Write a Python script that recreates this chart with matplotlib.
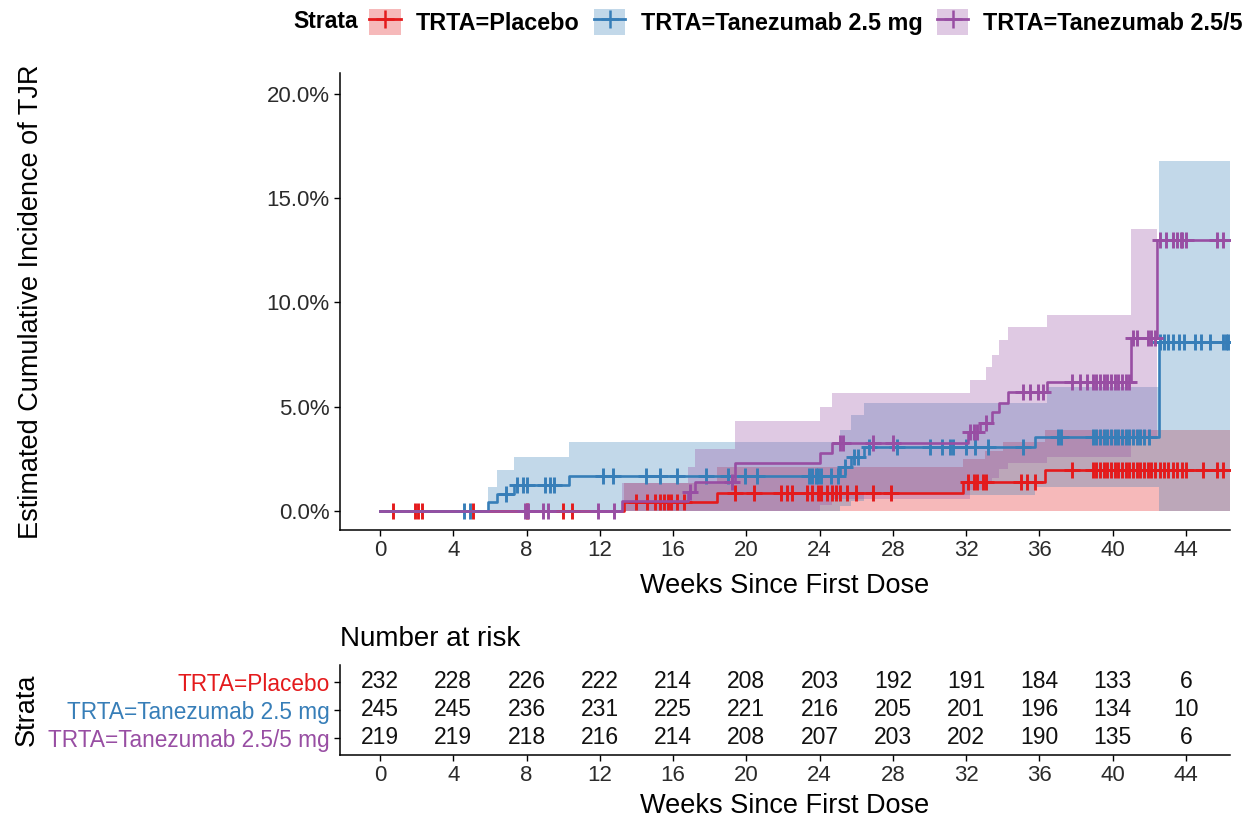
import numpy as np
import matplotlib.pyplot as plt
from matplotlib.patches import Patch
from matplotlib.lines import Line2D

plt.rcParams['font.family'] = ['Liberation Sans', 'DejaVu Sans']

W, H = 1248, 821
END = 46.4

groups = ['TRTA=Placebo', 'TRTA=Tanezumab 2.5 mg', 'TRTA=Tanezumab 2.5/5 mg']
colors = ['#E41A1C', '#377EB8', '#984EA3']

# cumulative incidence (%) step curves
red_t = [0, 13.3, 18.4, 31.8, 36.3]
red_y = [0, 0.43, 0.87, 1.38, 1.97]
blue_t = [0, 5.9, 6.4, 7.3, 10.3, 25.1, 25.7, 26.4, 35.75, 42.5]
blue_y = [0, 0.41, 0.82, 1.24, 1.67, 2.13, 2.6, 3.07, 3.55, 8.1]
purple_t = [0, 13.2, 16.8, 17.2, 19.4, 24.0, 24.7, 32.1, 32.75, 33.4, 33.8, 34.3, 36.4, 41.0, 42.4]
purple_y = [0, 0.46, 0.9, 1.4, 2.3, 2.78, 3.26, 3.8, 4.2, 4.75, 5.2, 5.7, 6.2, 8.3, 13.0]

# confidence bands (%)
red_ci_t = [0, 13.3, 18.4, 31.8, 33.0, 34.0, 36.3]
red_lo = [0, 0, 0, 0, 0, 0, 0]
red_hi = [0, 1.34, 2.1, 2.5, 2.9, 3.3, 3.9]
blue_ci_t = [0, 5.9, 6.4, 7.3, 10.3, 25.1, 25.7, 26.4, 35.75, 36.4, 42.5]
blue_lo = [0, 0, 0, 0, 0, 0.25, 0.5, 0.77, 1.15, 1.15, 0]
blue_hi = [0, 1.17, 1.97, 2.6, 3.3, 3.9, 4.6, 5.2, 5.2, 5.95, 16.8]
purple_ci_t = [0, 13.2, 16.8, 17.2, 19.4, 24.0, 24.7, 32.2, 33.1, 33.4, 33.8, 34.3, 36.4, 41.0]
purple_lo = [0, 0, 0, 0, 0, 0.3, 0.6, 1.0, 1.3, 1.6, 2.0, 2.3, 2.6, 3.5]
purple_hi = [0, 1.34, 2.1, 2.95, 4.3, 5.0, 5.66, 6.3, 6.9, 7.5, 8.2, 8.8, 9.4, 13.5]
purple_ci_end = 42.4

# censoring times (weeks)
red_cens = [0.7, 1.9, 2.1, 2.3, 5.1, 8.0, 10.0, 10.5,
            14.0, 14.6, 15.0, 15.3, 15.5, 15.7, 15.9, 16.2, 16.6,
            19.4, 20.4, 21.9, 22.2, 22.5, 23.3, 23.6, 23.9, 24.1, 24.4, 24.7, 24.9,
            25.1, 25.5, 26.0, 26.9, 27.9,
            32.1, 32.4, 32.6, 32.9, 33.1, 35.0, 35.3, 35.75,
            37.8, 38.9, 39.1, 39.3, 39.5, 39.7, 39.9, 40.1, 40.3, 40.5, 40.7, 40.9,
            41.1, 41.3, 41.5, 41.7, 41.9, 42.1, 42.3, 42.6, 42.8, 43.0, 43.3, 43.5,
            43.8, 44.0, 44.9, 45.7, 46.0]
blue_cens = [4.6, 4.9, 6.9, 7.5, 7.8, 8.0, 9.0, 9.3, 9.5,
             12.2, 12.7, 14.5, 15.3, 16.2, 17.8, 19.0, 19.9, 20.6,
             23.4, 23.6, 23.8, 23.9, 24.1, 24.6, 25.0, 25.4, 25.9, 26.1,
             26.7, 28.2, 30.0, 30.7, 31.1, 31.3, 32.0, 32.5, 33.2, 35.1,
             37.0, 37.2, 38.9, 39.1, 39.3, 39.5, 39.7, 39.9, 40.1, 40.3, 40.5,
             40.7, 40.9, 41.1, 41.3, 41.5, 41.7, 42.0,
             42.6, 42.8, 43.0, 43.3, 43.6, 43.9, 44.5, 44.8, 45.3, 46.0, 46.2, 46.3]
purple_cens = [7.9, 8.1, 8.9, 9.2, 11.9, 12.8, 16.9, 19.2, 25.1, 25.3, 26.9, 28.0,
               32.2, 32.4, 32.6, 33.1, 35.1, 35.5, 35.9, 36.2,
               37.8, 38.2, 38.6, 38.9, 39.1, 39.3, 39.5, 39.7, 39.9, 40.1, 40.3,
               40.5, 40.7, 40.9, 41.1, 41.3, 41.9, 42.1, 42.3,
               42.6, 42.9, 43.3, 43.5, 43.7, 43.8, 44.0, 45.7, 46.0]

# number at risk
risk_weeks = [0, 4, 8, 12, 16, 20, 24, 28, 32, 36, 40, 44]
risk_placebo = [232, 228, 226, 222, 214, 208, 203, 192, 191, 184, 133, 6]
risk_tan25 = [245, 245, 236, 231, 225, 221, 216, 205, 201, 196, 134, 10]
risk_tan255 = [219, 219, 218, 216, 214, 208, 207, 203, 202, 190, 135, 6]


def stairs(t, v, end):
    return list(t) + [end], list(v) + [v[-1]]


def at(t, v, x):
    idx = np.searchsorted(t, x, side='right') - 1
    return np.asarray(v)[idx]


fig = plt.figure(figsize=(W / 100, H / 100), dpi=100)
ax = fig.add_axes([340 / W, 1 - 530 / H, (1230 - 340) / W, (530 - 73) / H])

bands = [(red_ci_t, red_lo, red_hi, END),
         (blue_ci_t, blue_lo, blue_hi, END),
         (purple_ci_t, purple_lo, purple_hi, purple_ci_end)]
for (t, lo, hi, end), c in zip(bands, colors):
    tt, ll = stairs(t, lo, end)
    _, hh = stairs(t, hi, end)
    ax.fill_between(tt, ll, hh, step='post', color=c, alpha=0.3, lw=0)

curves = [(red_t, red_y, red_cens), (blue_t, blue_y, blue_cens),
          (purple_t, purple_y, purple_cens)]
for (t, y, cens), c in zip(curves, colors):
    tt, yy = stairs(t, y, END)
    ax.step(tt, yy, where='post', color=c, lw=1.9)
    ax.plot(cens, at(t, y, cens), '+', color=c, ms=11, mew=2.1)

ax.set_xlim(-2.18, 46.4)
ax.set_ylim(-0.91, 21.0)
ax.set_xticks(range(0, 45, 4))
ax.set_yticks([0, 5, 10, 15, 20])
ax.set_yticklabels(['0.0%', '5.0%', '10.0%', '15.0%', '20.0%'])
for s in ['top', 'right']:
    ax.spines[s].set_visible(False)
for s in ['left', 'bottom']:
    ax.spines[s].set_linewidth(1.1)
ax.tick_params(labelsize=16, length=4, width=1, labelcolor='#2b2b2b')
ax.set_xlabel('Weeks Since First Dose', fontsize=19.5, labelpad=8)
ax.set_ylabel('Estimated Cumulative Incidence of TJR', fontsize=19.5)
ax.yaxis.set_label_coords((44 - 340) / 890, 0.5)

# legend
fig.text(293 / W, 1 - 22 / H, 'Strata', fontsize=16.5, fontweight='bold', va='center')
handles = [(Patch(facecolor=c, alpha=0.3, lw=0),
            Line2D([], [], color=c, marker='+', lw=2, ms=13, mew=1.8)) for c in colors]
fig.legend(handles, groups, loc='center left', bbox_to_anchor=(369 / W, 1 - 22 / H),
           ncol=3, frameon=False, prop={'weight': 'bold', 'size': 16.8},
           handlelength=1.35, handleheight=1.4, handletextpad=0.65, columnspacing=0.62,
           borderpad=0, borderaxespad=0)

# risk table
ax2 = fig.add_axes([340 / W, 1 - 755 / H, (1230 - 340) / W, (755 - 665) / H])
rows = [risk_placebo, risk_tan25, risk_tan255]
ypos = [3, 2, 1]
for row, yv in zip(rows, ypos):
    for wk, n in zip(risk_weeks, row):
        ax2.text(wk, yv, str(n), ha='center', va='center', fontsize=16.5, color='#111111')
ax2.set_xlim(-2.18, 46.4)
ax2.set_ylim(0.38, 3.6)
ax2.set_xticks(risk_weeks)
ax2.set_yticks(ypos)
ax2.set_yticklabels(groups)
for lab, c in zip(ax2.get_yticklabels(), colors):
    lab.set_color(c)
for s in ['top', 'right']:
    ax2.spines[s].set_visible(False)
for s in ['left', 'bottom']:
    ax2.spines[s].set_linewidth(1.1)
ax2.tick_params(axis='x', labelsize=16, length=4, width=1, labelcolor='#2b2b2b')
ax2.tick_params(axis='y', labelsize=16.3, length=4, width=1)
ax2.set_xlabel('Weeks Since First Dose', fontsize=19.5, labelpad=5)
ax2.set_ylabel('Strata', fontsize=19.5)
ax2.yaxis.set_label_coords((40 - 340) / 890, 0.5)
ax2.set_title('Number at risk', loc='left', fontsize=20, pad=14)

fig.savefig('out.png', dpi=100)
